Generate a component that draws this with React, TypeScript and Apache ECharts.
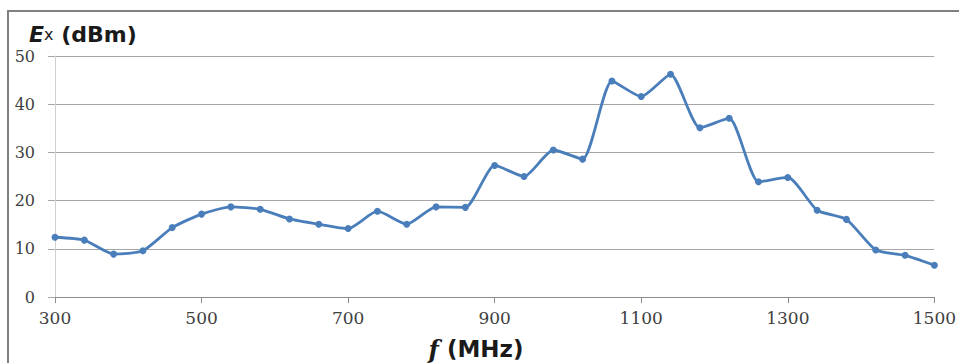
import React, { useEffect, useRef } from "react";
import * as echarts from "echarts";

const frequencies: string[] = [
  "300", "340", "380", "420", "460", "500", "540", "580", "620", "660",
  "700", "740", "780", "820", "860", "900", "940", "980", "1020", "1060",
  "1100", "1140", "1180", "1220", "1260", "1300", "1340", "1380", "1420", "1460", "1500",
];
const exValues: number[] = [
  12.4, 11.8, 8.9, 9.6, 14.4, 17.2, 18.7, 18.2, 16.2, 15.1,
  14.2, 17.8, 15.1, 18.7, 18.6, 27.3, 25.0, 30.5, 28.6, 44.8,
  41.6, 46.2, 35.1, 37.1, 23.9, 24.8, 18.0, 16.1, 9.75, 8.65, 6.6,
];
const yTicks = { min: 0, max: 50, interval: 10 };

export default function App() {
  const ref = useRef<HTMLDivElement>(null);
  useEffect(() => {
    if (!ref.current) return;
    const chart = echarts.init(ref.current, null, { renderer: "svg" });
    chart.setOption({
      animation: false,
      backgroundColor: "#ffffff",
      grid: { left: 55, right: 24, top: 56, bottom: 66, containLabel: false },
      xAxis: {
        type: "category",
        data: frequencies,
        boundaryGap: false,
        axisLine: { show: true, lineStyle: { color: "#8c8c8c", width: 1 } },
        axisTick: { show: true, interval: 4, length: 6, lineStyle: { color: "#8c8c8c" } },
        axisLabel: {
          interval: 4,
          margin: 12,
          fontFamily: "DejaVu Serif",
          fontSize: 17,
          color: "#404040",
        },
        splitLine: { show: false },
      },
      yAxis: {
        type: "value",
        min: yTicks.min,
        max: yTicks.max,
        interval: yTicks.interval,
        axisLine: { show: true, lineStyle: { color: "#d0d0d0", width: 1 } },
        axisTick: { show: true, length: 7, lineStyle: { color: "#a6a6a6" } },
        axisLabel: {
          margin: 20,
          fontFamily: "DejaVu Serif",
          fontSize: 16,
          color: "#404040",
        },
        splitLine: { show: true, lineStyle: { color: "#a6a6a6", width: 1 } },
      },
      series: [
        {
          type: "line",
          data: exValues,
          smooth: 0.2,
          symbol: "circle",
          symbolSize: 7,
          lineStyle: { color: "#4a7ebb", width: 2.8 },
          itemStyle: { color: "#4a7ebb" },
        },
      ],
      graphic: [
        {
          type: "rect",
          shape: { x: 8, y: 11, width: 970, height: 380 },
          style: { fill: "none", stroke: "#808080", lineWidth: 2 },
          silent: true,
        },
        {
          type: "text",
          x: 29,
          y: 23,
          style: {
            text: "{e|E}{s|x}{u| (dBm)}",
            rich: {
              e: { fontFamily: "DejaVu Sans", fontWeight: "bold", fontStyle: "italic", fontSize: 22, fill: "#1a1a1a" },
              s: { fontFamily: "DejaVu Sans", fontSize: 16, fill: "#1a1a1a" },
              u: { fontFamily: "DejaVu Sans", fontWeight: "bold", fontSize: 22, fill: "#1a1a1a" },
            },
          },
        },
        {
          type: "text",
          x: 476,
          y: 349,
          style: {
            text: "{f|f}{u| (MHz)}",
            align: "center",
            verticalAlign: "middle",
            rich: {
              f: { fontFamily: "DejaVu Serif", fontWeight: "bold", fontStyle: "italic", fontSize: 24, fill: "#1a1a1a" },
              u: { fontFamily: "DejaVu Sans", fontWeight: "bold", fontSize: 23, fill: "#1a1a1a" },
            },
          },
        },
      ],
    });
    return () => chart.dispose();
  }, []);
  return (
    <div
      ref={ref}
      style={{ position: "fixed", left: 0, top: 0, width: 959, height: 363 }}
    />
  );
}
